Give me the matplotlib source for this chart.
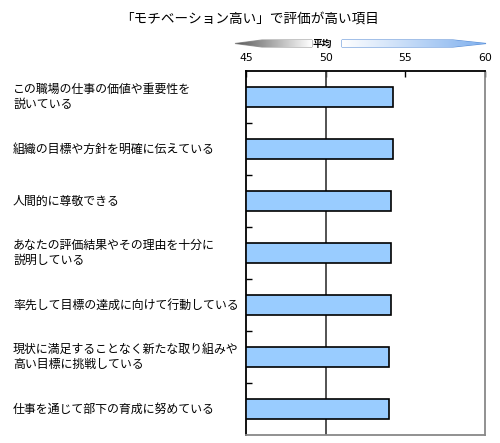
import numpy as np
import matplotlib as mpl
import matplotlib.pyplot as plt
from matplotlib.patches import Polygon

mpl.use('Agg')
plt.rcParams['font.family'] = ['Noto Sans CJK JP', 'DejaVu Sans']

titulo = "「モチベーション高い」で評価が高い項目"
itens = [
    "この職場の仕事の価値や重要性を\n説いている",
    "組織の目標や方針を明確に伝えている",
    "人間的に尊敬できる",
    "あなたの評価結果やその理由を十分に\n説明している",
    "率先して目標の達成に向けて行動している",
    "現状に満足することなく新たな取り組みや\n高い目標に挑戦している",
    "仕事を通じて部下の育成に努めている",
]
valores = [54.2, 54.2, 54.1, 54.1, 54.1, 54.0, 54.0]
ticks = [45, 50, 55, 60]
media = 50

fig = plt.figure(figsize=(5, 4.43), dpi=100)
ax = fig.add_axes([0.492, 0.018, 0.478, 0.822])

y = np.arange(len(itens))
ax.barh(y, [v - ticks[0] for v in valores], left=ticks[0], height=0.39,
        color='#99ccff', edgecolor='black', linewidth=1.2, zorder=3)
ax.axvline(media, color='#444444', linewidth=1.3, zorder=2)

ax.set_xlim(ticks[0], ticks[-1])
ax.set_ylim(len(itens) - 0.5, -0.5)
ax.xaxis.tick_top()
ax.set_xticks(ticks)
ax.set_xticklabels([str(t) for t in ticks], fontsize=7.8, family='DejaVu Sans')
ax.tick_params(axis='x', direction='in', length=4, pad=6, width=1)
ax.set_yticks(np.arange(len(itens) - 1) + 0.5)
ax.set_yticklabels([])
ax.tick_params(axis='y', direction='in', length=4, width=1)
for lado in ['left', 'top']:
    ax.spines[lado].set_linewidth(1.3)
for lado in ['right', 'bottom']:
    ax.spines[lado].set_color('#888888')
    ax.spines[lado].set_linewidth(1.3)

trans = mpl.transforms.blended_transform_factory(fig.transFigure, ax.transData)
for i, texto in enumerate(itens):
    ax.text(0.026, i, texto, transform=trans, ha='left', va='center',
            fontsize=8.6, linespacing=1.25, clip_on=False)

fig.text(0.5, 0.957, titulo, ha='center', va='center', fontsize=9.8)

# setas decorativas acima do eixo
sobre = fig.add_axes([0, 0, 1, 1], zorder=5)
sobre.axis('off')

esq = Polygon([(235, 43.5), (262, 40), (312, 40), (312, 47), (262, 47)],
              closed=True, facecolor='none', edgecolor='#999999', linewidth=0.8)
sobre.add_patch(esq)
grad = np.linspace(0.35, 1.0, 256).reshape(1, -1)
img = sobre.imshow(grad, extent=[235, 312, 47, 40], cmap='gray', vmin=0, vmax=1,
                   aspect='auto', zorder=1)
img.set_clip_path(esq)

dir_ = Polygon([(342, 40), (453, 40), (486, 43.5), (453, 47), (342, 47)],
               closed=True, facecolor='none', edgecolor='#5b8fd6', linewidth=0.8)
sobre.add_patch(dir_)
azul = mpl.colors.LinearSegmentedColormap.from_list('azul', ['#ffffff', '#7fb0ee'])
img2 = sobre.imshow(np.linspace(0, 1, 256).reshape(1, -1), extent=[342, 486, 47, 40],
                    cmap=azul, aspect='auto', zorder=1)
img2.set_clip_path(dir_)
sobre.set_xlim(0, 500)
sobre.set_ylim(443, 0)
sobre.text(322, 44, "平均", ha='center', va='center', fontsize=7, fontweight='bold')

fig.savefig('out.png', dpi=100)
